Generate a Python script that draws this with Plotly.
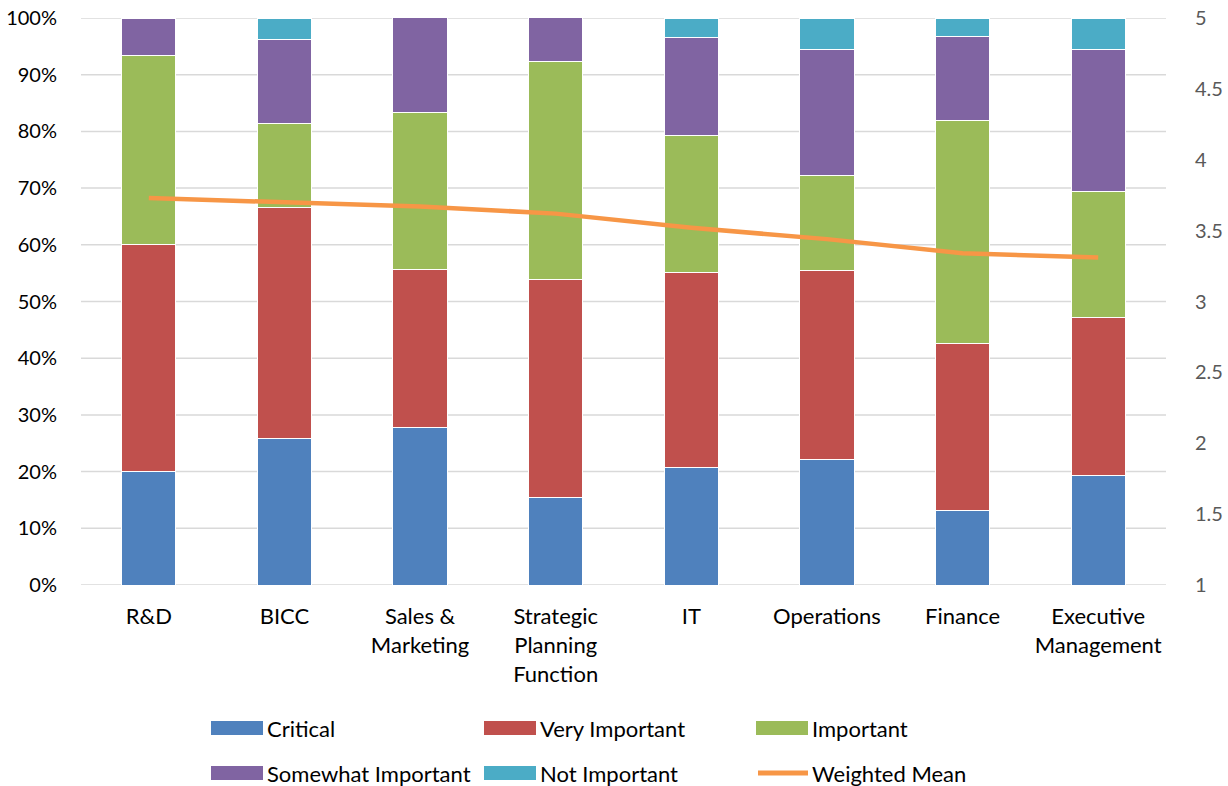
import plotly.graph_objects as go

# Survey responses by department (share of respondents, %)
departments = ["R&D", "BICC", "Sales &<br>Marketing", "Strategic<br>Planning<br>Function",
               "IT", "Operations", "Finance", "Executive<br>Management"]
critical = [20.0, 25.9, 27.8, 15.4, 20.7, 22.2, 13.1, 19.4]
very_important = [40.0, 40.7, 27.8, 38.5, 34.5, 33.3, 29.5, 27.8]
important = [33.3, 14.8, 27.8, 38.5, 24.1, 16.7, 39.3, 22.2]
somewhat_important = [6.7, 14.8, 16.7, 7.7, 17.2, 22.2, 14.8, 25.0]
not_important = [0.0, 3.7, 0.0, 0.0, 3.4, 5.6, 3.3, 5.6]
weighted_mean = [3.73, 3.70, 3.67, 3.62, 3.52, 3.44, 3.34, 3.31]

left_ticks = [0, 10, 20, 30, 40, 50, 60, 70, 80, 90, 100]
right_ticks = [1, 1.5, 2, 2.5, 3, 3.5, 4, 4.5, 5]

series = [
    ("Critical", critical, "#4F81BD"),
    ("Very Important", very_important, "#C0504D"),
    ("Important", important, "#9BBB59"),
    ("Somewhat Important", somewhat_important, "#8064A2"),
    ("Not Important", not_important, "#4BACC6"),
]
line_color = "#F79646"
grid_color = "#D9D9D9"
FONT = "Lato"
TEXT_SIZE = 22
NUM_SIZE = 20
HIDDEN = "rgba(0,0,0,0)"

fig = go.Figure()
for name, vals, color in series:
    fig.add_trace(go.Bar(
        x=departments, y=vals, name=name,
        marker=dict(color=color, line=dict(color="white", width=1)),
        showlegend=False,
    ))
fig.add_trace(go.Scatter(
    x=departments, y=weighted_mean, name="Weighted Mean", yaxis="y2",
    mode="lines", line=dict(color=line_color, width=4.5), showlegend=False,
))

# Plot-area geometry in pixels, used to place the hand-built legend
W, H = 1228, 786
L, R, T, B = 81, 1166, 18, 585

def px_x(px):
    return (px - L) / (R - L)

def px_y(py):
    return (B - py) / (B - T)

shapes = []
# Horizontal gridlines at every left-axis tick, including 0% and 100%
for v in left_ticks:
    shapes.append(dict(type="line", xref="paper", yref="y", x0=0, x1=1, y0=v, y1=v,
                       layer="below", line=dict(color=grid_color, width=1.5)))

legend_items = [
    ("Critical", "#4F81BD", 211, 728, "bar"),
    ("Very Important", "#C0504D", 484, 728, "bar"),
    ("Important", "#9BBB59", 756, 728, "bar"),
    ("Somewhat Important", "#8064A2", 211, 773, "bar"),
    ("Not Important", "#4BACC6", 484, 773, "bar"),
    ("Weighted Mean", line_color, 756, 773, "line"),
]
annotations = []
for label, color, x0, yc, kind in legend_items:
    if kind == "bar":
        shapes.append(dict(type="rect", xref="paper", yref="paper",
                           x0=px_x(x0), x1=px_x(x0 + 52),
                           y0=px_y(yc + 7), y1=px_y(yc - 7),
                           fillcolor=color, line=dict(width=0)))
    else:
        shapes.append(dict(type="line", xref="paper", yref="paper",
                           x0=px_x(x0 + 2), x1=px_x(x0 + 52),
                           y0=px_y(yc), y1=px_y(yc),
                           line=dict(color=color, width=5)))
    annotations.append(dict(xref="paper", yref="paper", x=px_x(x0 + 54), y=px_y(yc),
                            text=label, showarrow=False, xanchor="left", yanchor="middle",
                            font=dict(family=FONT, size=TEXT_SIZE, color="#000000")))

fig.update_layout(
    template="none",
    width=W, height=H,
    margin=dict(l=L, r=W - R, t=T, b=H - B),
    barmode="stack", bargap=0.6,
    plot_bgcolor="white", paper_bgcolor="white",
    font=dict(family=FONT, size=TEXT_SIZE, color="#000000"),
    xaxis=dict(showgrid=False, showline=False, zeroline=False, automargin=False,
               ticks="outside", ticklen=12, tickcolor=HIDDEN,
               tickfont=dict(size=TEXT_SIZE, color="#000000")),
    yaxis=dict(range=[0, 100], tickvals=left_ticks,
               ticktext=[f"{v}%" for v in left_ticks], automargin=False,
               showline=False, ticks="outside", ticklen=19, tickcolor=HIDDEN,
               showgrid=False, zeroline=False,
               tickfont=dict(size=NUM_SIZE, color="#000000")),
    yaxis2=dict(range=[1, 5], tickvals=right_ticks,
                ticktext=[f"{v:g}" for v in right_ticks], automargin=False,
                overlaying="y", side="right", showgrid=False, zeroline=False,
                showline=False, ticks="outside", ticklen=24, tickcolor=HIDDEN,
                tickfont=dict(size=NUM_SIZE, color="#595959")),
    shapes=shapes,
    annotations=annotations,
    showlegend=False,
)

fig.write_html("out.html")
